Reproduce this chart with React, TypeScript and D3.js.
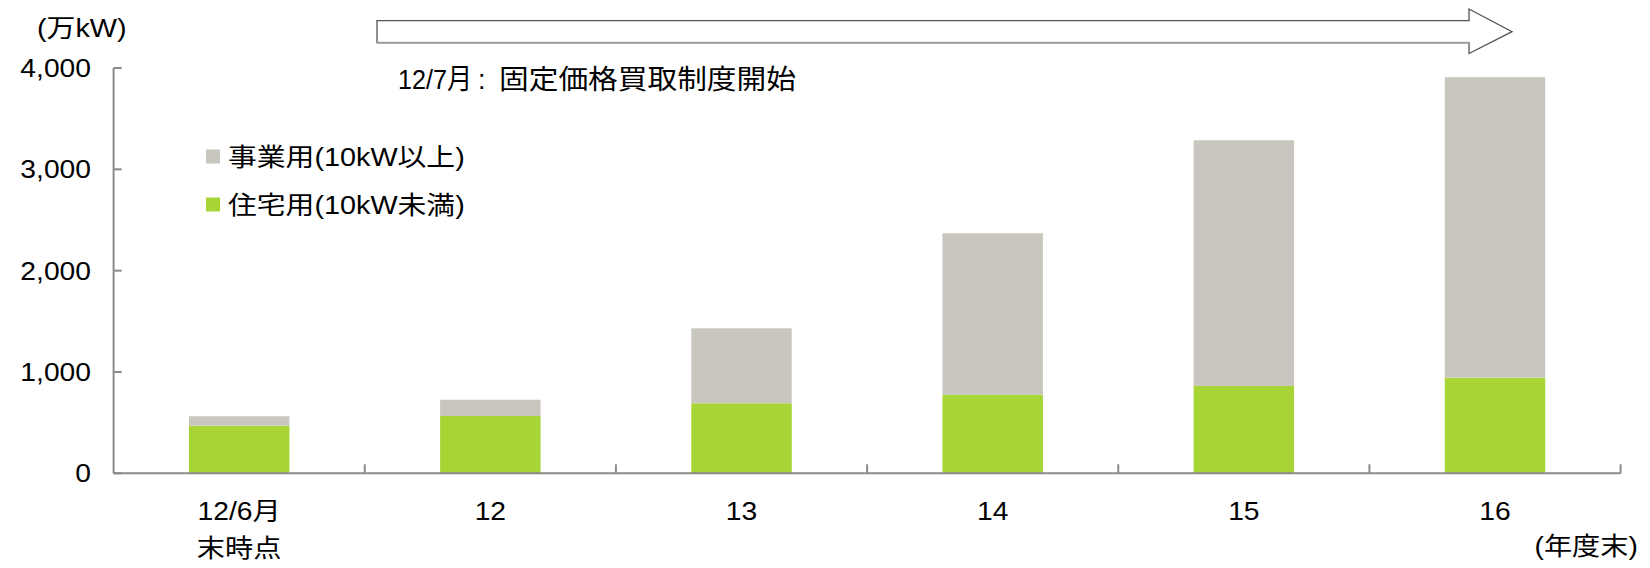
import React from "react";
import * as d3 from "d3";

const categories: string[][] = [["12/6月", "末時点"], ["12"], ["13"], ["14"], ["15"], ["16"]];
const residential: number[] = [470, 566, 691, 776, 862, 944];
const business: number[] = [93, 160, 740, 1593, 2425, 2965];
const yTicks: number[] = [0, 1000, 2000, 3000, 4000];
const seriesNames: string[] = ["事業用(10kW以上)", "住宅用(10kW未満)"];
const seriesColors: string[] = ["#c8c6be", "#a8d536"];
const unitLabel = "(万kW)";
const xUnitLabel = "(年度末)";
const annotationDate = "12/7";
const annotationMonth = "月";
const annotationText = "固定価格買取制度開始";

const W = 1650;
const H = 568;
const SX = 1.13;
const FONT = '"Liberation Sans", Arial, "Noto Sans CJK JP", sans-serif';
const AXIS = "#8a8a8a";

function Txt({ x, y, size, anchor = "start", sx = SX, spacing = 0, children }: any) {
  return (
    <text
      transform={`translate(${x},${y}) scale(${sx},1)`}
      textAnchor={anchor}
      fontSize={size}
      fontFamily={FONT}
      letterSpacing={spacing}
      fill="#000"
    >
      {children}
    </text>
  );
}

export default function App() {
  const x0 = 113.6;
  const x1 = 1620.6;
  const y = d3.scaleLinear().domain([0, 4000]).range([473.3, 68]);
  const x = d3
    .scaleBand<number>()
    .domain(categories.map((_, i) => i))
    .range([x0, x1])
    .padding(0);
  const bw = x.bandwidth() * 0.4;
  const stack = d3
    .stack<number>()
    .keys(["res", "bus"])
    .value((i, k) => (k === "res" ? residential[i] : business[i]))(
    categories.map((_, i) => i)
  );

  const arrowTop = 20.7;
  const arrowBot = 42.7;
  const arrowX0 = 377;
  const headX = 1469;
  const tipX = 1512;
  const headTop = 9;
  const headBot = 53.5;
  const tipY = (arrowTop + arrowBot) / 2;

  return (
    <svg
      width={W}
      height={H}
      style={{ position: "absolute", left: 0, top: 0, background: "#fff" }}
    >
      <rect width={W} height={H} fill="#fff" />
      {/* bars */}
      {stack.map((s, si) => (
        <g key={si}>
          {s.map((d, i) => {
            const cx = (x(i) as number) + x.bandwidth() / 2;
            return (
              <rect
                key={i}
                x={cx - bw / 2}
                y={y(d[1])}
                width={bw}
                height={y(d[0]) - y(d[1])}
                fill={si === 0 ? seriesColors[1] : seriesColors[0]}
              />
            );
          })}
        </g>
      ))}
      {/* y axis */}
      <line x1={x0} x2={x0} y1={y(4000)} y2={y(0)} stroke={AXIS} strokeWidth={2} />
      {yTicks.map((t) => (
        <g key={t}>
          <line x1={x0} x2={x0 + 8} y1={y(t)} y2={y(t)} stroke={AXIS} strokeWidth={2} />
          <Txt x={91} y={y(t) + 9} size={25} anchor="end">
            {d3.format(",")(t)}
          </Txt>
        </g>
      ))}
      {/* x axis */}
      <line x1={x0} x2={x1} y1={y(0)} y2={y(0)} stroke={AXIS} strokeWidth={2} />
      {categories.map((_, i) => {
        const bx = (x(i) as number) + x.bandwidth();
        return (
          <line key={i} x1={bx} x2={bx} y1={y(0)} y2={y(0) - 9} stroke={AXIS} strokeWidth={2} />
        );
      })}
      {categories.map((lines, i) => {
        const cx = (x(i) as number) + x.bandwidth() / 2;
        return lines.map((l, li) => (
          <Txt key={i + "-" + li} x={cx} y={520 + li * 37} size={25} anchor="middle">
            {l}
          </Txt>
        ));
      })}
      <Txt x={1638} y={555} size={25} anchor="end">
        {xUnitLabel}
      </Txt>
      <Txt x={37} y={37} size={25.5}>
        {unitLabel}
      </Txt>
      {/* arrow */}
      <path
        d={`M${arrowX0},${arrowTop} L${headX},${arrowTop} L${headX},${headTop} L${tipX},${tipY} L${headX},${headBot} L${headX},${arrowBot} L${arrowX0},${arrowBot} Z`}
        fill="#fff"
        stroke="#555"
        strokeWidth={1.3}
      />
      <line x1={arrowX0} x2={headX} y1={arrowBot} y2={arrowBot} stroke="#a0a0a0" strokeWidth={2} />
      {/* annotation */}
      <Txt x={398} y={89} size={28} sx={0.9}>
        {annotationDate}
      </Txt>
      <Txt x={447} y={89} size={28} sx={0.9}>
        {annotationMonth}
      </Txt>
      <Txt x={478} y={89} size={27} sx={1}>
        :
      </Txt>
      <Txt x={499} y={89} size={27} sx={1.1}>
        {annotationText}
      </Txt>
      {/* legend */}
      {seriesNames.map((n, i) => (
        <g key={n}>
          <rect x={206} y={149.5 + i * 48} width={14} height={14} fill={seriesColors[i]} />
          <Txt x={228} y={166 + i * 48} size={25.5}>
            {n}
          </Txt>
        </g>
      ))}
    </svg>
  );
}
